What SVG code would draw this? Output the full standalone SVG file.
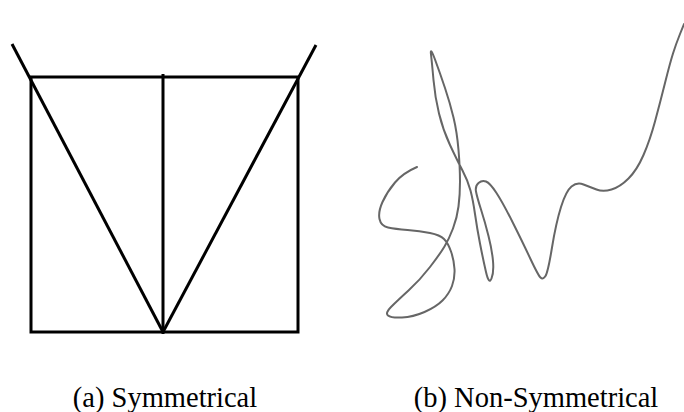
<svg xmlns="http://www.w3.org/2000/svg" width="684" height="412" viewBox="0 0 684 412">
<style>
.fig{fill:none;stroke:#000;stroke-width:3;stroke-linecap:butt}
.sig{fill:none;stroke:#666;stroke-width:2;stroke-linecap:round;stroke-linejoin:round}
.cap{font-family:"Liberation Serif","Times New Roman",serif;font-size:28.5px;fill:#000;text-anchor:middle}
</style>
<rect width="684" height="412" fill="#fff"/>
<g id="symmetrical">
<rect class="fig" x="31" y="77" width="267" height="255"/>
<line class="fig" x1="163" y1="74" x2="163" y2="334"/>
<line class="fig" x1="12" y1="44" x2="163" y2="332"/>
<line class="fig" x1="316" y1="45" x2="163" y2="332"/>
</g>
<g id="non-symmetrical">
<path class="sig" d="M417,167 Q403,173 395,182.5 Q387,192 382.5,202 Q378,212 379.5,219 Q381,226 388,227.5 Q395,229 407.5,230 Q420,231 430,233 Q440,235 444,239 Q448,243 451,251.5 Q454,260 454.5,269 Q455,278 452,286 Q449,294 442.5,300.5 Q436,307 424.5,312 Q413,317 402,317.5 Q391,318 388,315.5 Q385,313 391,307 Q397,301 408.5,290.5 Q420,280 430,267 Q440,254 444.5,246.5 Q449,239 453,228.5 Q457,218 458.5,206.5 Q460,195 460,181.5 Q460,168 458.5,150 Q457,132 453.5,117.5 Q450,103 445,88 Q440,73 435,59.5 Q430,46 431,54.5 Q432,63 433.5,80 Q435,97 439,113.5 Q443,130 450,145 Q457,160 462.5,170.5 Q468,181 470.5,190.5 Q473,200 475,214 Q477,228 480,243.5 Q483,259 486,272 Q489,285 491.5,278.5 Q494,272 493,261 Q492,250 488.5,236 Q485,222 481,209.5 Q477,197 476,191.5 Q475,186 478.5,183 Q482,180 486,181.5 Q490,183 496.5,193 Q503,203 513,223 Q523,243 530.5,259 Q538,275 540.5,277.5 Q543,280 545.5,276 Q548,272 552,247.5 Q556,223 561,207 Q566,191 571.5,186.5 Q577,182 583.5,184.5 Q590,187 596.5,189.5 Q603,192 611.5,189.5 Q620,187 628.5,178.5 Q637,170 643.5,155 Q650,140 655,121.5 Q660,103 665,83 Q670,63 673,53.5 Q676,44 680,34 L684,24"/>
</g>
<g id="captions">
<text class="cap" x="165" y="407">(a) Symmetrical</text>
<text class="cap" x="536" y="407">(b) Non-Symmetrical</text>
</g>
</svg>
